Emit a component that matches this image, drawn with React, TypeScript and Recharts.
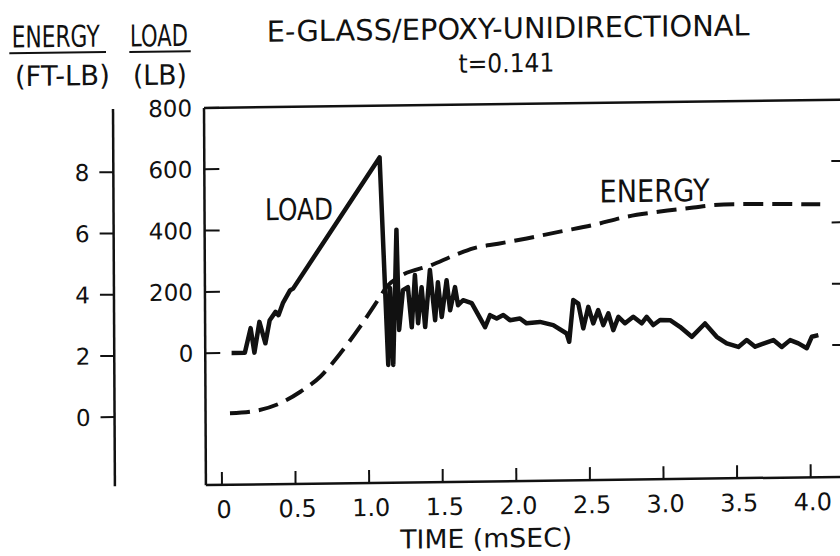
import React from "react";
import { ComposedChart, Line, XAxis, YAxis } from "recharts";

// ---- data (time in ms) ----
const loadTime = [
  0.07, 0.16, 0.2, 0.225, 0.26, 0.3, 0.33, 0.37, 0.39, 0.42, 0.47, 0.49, 1.082,
  1.134, 1.148, 1.168, 1.194, 1.209, 1.236, 1.27, 1.295, 1.318, 1.338, 1.363,
  1.386, 1.42, 1.454, 1.474, 1.499, 1.533, 1.556, 1.59, 1.61, 1.644, 1.703,
  1.793, 1.827, 1.872, 1.917, 1.962, 2.03, 2.075, 2.166, 2.256, 2.347,
  2.364, 2.393, 2.427, 2.46, 2.495, 2.528, 2.562, 2.596, 2.631, 2.664, 2.699,
  2.744, 2.8, 2.857, 2.891, 2.936, 2.982, 3.05, 3.117, 3.197, 3.287, 3.366,
  3.434, 3.513, 3.57, 3.627, 3.683, 3.751, 3.808, 3.865, 3.921, 3.978, 4.012,
  4.057,
];
const loadValue = [
  0, 0, 80, 0, 100, 30, 105, 132, 121, 160, 202, 207, 631,
  -46, 205, -46, 395, 68, 197, 207, 76, 246, 89, 206,
  76, 262, 98, 222, 108, 228, 130, 205, 146, 162, 152,
  73, 112, 101, 112, 95, 100, 84, 88, 77, 49,
  22, 158, 146, 65, 135, 81, 124, 75, 113, 58, 101,
  80, 101, 79, 100, 73, 89, 88, 66, 33, 76, 32,
  10, -2, 20, -2, 8, 19, -4, 18, 7, -9, 28,
  33,
];

const energyTime = [
  0.057, 0.193, 0.397, 0.536, 0.673, 0.809, 0.944, 1.081, 1.126, 1.216, 1.43,
  1.602, 1.715, 1.885, 2.079, 2.305, 2.532, 2.76, 2.986, 3.213, 3.349, 3.485,
  4.074,
];
const energyValue = [
  0.08, 0.12, 0.38, 0.75, 1.24, 1.99, 2.85, 3.82, 4.14, 4.47, 4.83,
  5.17, 5.36, 5.5, 5.66, 5.87, 6.07, 6.33, 6.48, 6.6, 6.67, 6.69,
  6.65,
];

const timeTicks = [0, 0.5, 1, 1.5, 2, 2.5, 3, 3.5, 4];
const topTimeTicks = [0, 0.5, 1, 1.5, 2, 2.5, 3, 3.5];
const loadTicks = [0, 200, 400, 600, 800];
const rightLoadTicks = [0, 200, 400, 600];
const energyTicks = [0, 2, 4, 6, 8];

const loadData = loadTime.map((t, i) => ({ t, load: loadValue[i] }));
const energyData = energyTime.map((t, i) => ({ t, energy: energyValue[i] }));

const FONT = "'DejaVu Sans', sans-serif";
const INK = "#111";

const BottomTick = (p: any) => {
  const { x, y, payload } = p;
  const v = payload.value as number;
  return (
    <g>
      <line x1={x} y1={y} x2={x} y2={y - 13} stroke={INK} strokeWidth={2} />
      <text x={x + 2} y={y + 33} textAnchor="middle" fontFamily={FONT} fontSize={24} fill={INK}>
        {v === 0 ? "0" : v.toFixed(1)}
      </text>
    </g>
  );
};

const TopTick = (p: any) => {
  const { x, y } = p;
  return <line x1={x} y1={y} x2={x} y2={y + 12} stroke={INK} strokeWidth={2} />;
};

const LoadTick = (p: any) => {
  const { x, y, payload } = p;
  return (
    <g>
      <line x1={x} y1={y} x2={x + 15} y2={y} stroke={INK} strokeWidth={2} />
      <text x={x - 12} y={y} dy="0.36em" textAnchor="end" fontFamily={FONT} fontSize={23} fill={INK}>
        {String(payload.value)}
      </text>
    </g>
  );
};

const EnergyTick = (p: any) => {
  const { x, y, payload } = p;
  return (
    <g>
      <line x1={x} y1={y} x2={x - 14} y2={y} stroke={INK} strokeWidth={2} />
      <text x={x - 24} y={y} dy="0.36em" textAnchor="end" fontFamily={FONT} fontSize={23} fill={INK}>
        {String(payload.value)}
      </text>
    </g>
  );
};

const RightTick = (p: any) => {
  const { x, y } = p;
  return <line x1={x} y1={y} x2={x - 14} y2={y} stroke={INK} strokeWidth={2} />;
};

const T = (props: { x: number; y: number; len: number; size: number; children: string }) => (
  <text
    x={props.x}
    y={props.y}
    textLength={props.len}
    lengthAdjust="spacingAndGlyphs"
    fontFamily={FONT}
    fontSize={props.size}
    fill={INK}
  >
    {props.children}
  </text>
);

const axisLine = { stroke: INK, strokeWidth: 2.5 };

export default function App() {
  return (
    <div
      style={{
        position: "absolute",
        left: 0,
        top: 0,
        width: 840,
        height: 556,
        overflow: "hidden",
        background: "#fff",
      }}
    >
      <div
        style={{
          position: "relative",
          width: 870,
          height: 556,
          transform: "matrix(1, -0.013, 0.005, 1, 0, 0)",
          transformOrigin: "522px 300px",
        }}
      >
        <ComposedChart
          width={870}
          height={556}
          margin={{ top: 102.8, right: 23, bottom: 0, left: 0 }}
        >
          <XAxis
            xAxisId="b"
            type="number"
            dataKey="t"
            orientation="bottom"
            domain={[-0.109, 4.246]}
            ticks={timeTicks}
            allowDataOverflow
            height={75}
            tickSize={0}
            tickMargin={0}
            tickLine={false}
            axisLine={axisLine}
            tick={BottomTick}
            interval={0}
          />
          <XAxis
            xAxisId="t"
            type="number"
            orientation="top"
            domain={[-0.109, 4.246]}
            ticks={topTimeTicks}
            allowDataOverflow
            height={1}
            tickSize={0}
            tickMargin={0}
            tickLine={false}
            axisLine={axisLine}
            tick={TopTick}
            interval={0}
          />
          <YAxis
            yAxisId="aLoad"
            type="number"
            orientation="left"
            domain={[-430, 800]}
            ticks={loadTicks}
            allowDataOverflow
            width={91}
            tickSize={0}
            tickMargin={0}
            tickLine={false}
            axisLine={axisLine}
            tick={LoadTick}
            interval={0}
          />
          <YAxis
            yAxisId="bEnergy"
            type="number"
            orientation="left"
            domain={[-2.26, 10.06]}
            ticks={energyTicks}
            allowDataOverflow
            width={114}
            tickSize={0}
            tickMargin={0}
            tickLine={false}
            axisLine={axisLine}
            tick={EnergyTick}
            interval={0}
          />
          <YAxis
            yAxisId="cLoadR"
            type="number"
            orientation="right"
            domain={[-430, 800]}
            ticks={rightLoadTicks}
            allowDataOverflow
            width={1}
            tickSize={0}
            tickMargin={0}
            tickLine={false}
            axisLine={axisLine}
            tick={RightTick}
            interval={0}
          />
          <Line
            data={energyData}
            xAxisId="b"
            yAxisId="bEnergy"
            dataKey="energy"
            type="monotone"
            stroke={INK}
            strokeWidth={4}
            strokeDasharray="20 9"
            dot={false}
            activeDot={false}
            isAnimationActive={false}
          />
          <Line
            data={loadData}
            xAxisId="b"
            yAxisId="aLoad"
            dataKey="load"
            type="linear"
            stroke={INK}
            strokeWidth={4.5}
            strokeLinejoin="round"
            dot={false}
            activeDot={false}
            isAnimationActive={false}
          />
        </ComposedChart>
        <svg
          width={870}
          height={556}
          style={{ position: "absolute", left: 0, top: 0, pointerEvents: "none" }}
        >
          <T x={268} y={38.4} len={483} size={29}>E-GLASS/EPOXY-UNIDIRECTIONAL</T>
          <T x={459.6} y={72} len={96} size={26}>t=0.141</T>
          <T x={13} y={41} len={88} size={30}>ENERGY</T>
          <line x1={10.6} y1={46.5} x2={107.3} y2={46.5} stroke={INK} strokeWidth={2} />
          <T x={16} y={79.5} len={95} size={28}>(FT-LB)</T>
          <T x={131.3} y={41.5} len={58} size={30}>LOAD</T>
          <line x1={130.6} y1={47} x2={192} y2={47} stroke={INK} strokeWidth={2} />
          <T x={134} y={80} len={54} size={28}>(LB)</T>
          <T x={265.5} y={217} len={68} size={30}>LOAD</T>
          <T x={600} y={203.4} len={110} size={31}>ENERGY</T>
          <T x={399} y={547} len={172} size={26}>TIME (mSEC)</T>
        </svg>
      </div>
    </div>
  );
}
